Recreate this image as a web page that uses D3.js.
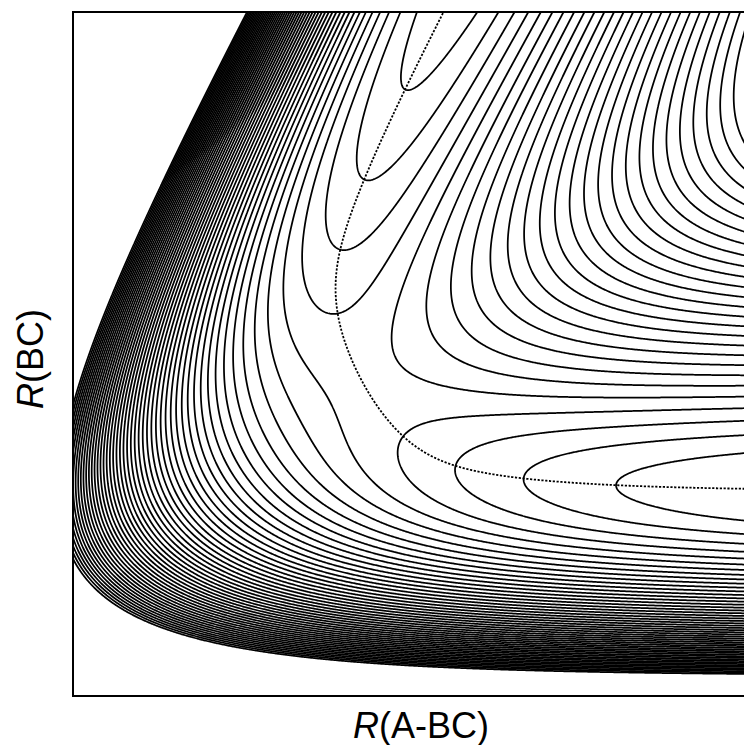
<!DOCTYPE html>
<html>
<head>
<meta charset="utf-8">
<script src="https://cdn.jsdelivr.net/npm/d3@7"></script>
<style>
  html, body { margin: 0; padding: 0; background: #fff; }
  svg { display: block; }
</style>
</head>
<body>
<script>
// Collinear A + B-C potential energy surface (LEPS form), drawn as equally
// spaced energy contours over the Jacobi distances R(A-BC) and R(BC),
// with the minimum energy path shown dotted.

// Atom masses (A, B, C), amu
const atomMass = [1.008, 1.008, 1.008];

// Morse parameters for the three pairs: A-B, B-C, A-C
const pairNames  = ["AB", "BC", "AC"];
const wellDepth  = [4.746, 4.746, 4.746];   // eV
const morseBeta  = [1.942, 1.942, 1.942];   // 1/Å
const bondLength = [0.742, 0.742, 0.742];   // Å
const satoParam  = [0.15];

// Axis ranges (Å)
const xDomain = [0.938, 2.027];   // R(A-BC)
const yDomain = [0.400, 1.540];   // R(BC)

// Contour energies (eV)
const contourLevels = [
  -4.61, -4.55, -4.49, -4.43, -4.37, -4.31, -4.25, -4.19, -4.13, -4.07,
  -4.01, -3.95, -3.89, -3.83, -3.77, -3.71, -3.65, -3.59, -3.53, -3.47,
  -3.41, -3.35, -3.29, -3.23, -3.17, -3.11, -3.05, -2.99, -2.93, -2.87,
  -2.81, -2.75, -2.69, -2.63, -2.57, -2.51, -2.45, -2.39, -2.33, -2.27,
  -2.21, -2.15, -2.09, -2.03, -1.97, -1.91, -1.85, -1.79, -1.73, -1.67,
  -1.61, -1.55
];

const axisTitles = { x: ["R", "(A-BC)"], y: ["R", "(BC)"] };

const W = 744, H = 745;
const plot = { left: 73, top: 12, right: 770, bottom: 696 };

const xScale = d3.scaleLinear().domain(xDomain).range([plot.left, plot.right]);
const yScale = d3.scaleLinear().domain(yDomain).range([plot.bottom, plot.top]);

const [mA, mB, mC] = atomMass;
const cFrac = mC / (mB + mC);                        // B-C centre position
const muR = mA * (mB + mC) / (mA + mB + mC);          // reduced mass along R
const mur = mB * mC / (mB + mC);                      // reduced mass along r

// LEPS energy for A at Jacobi distance R from the B-C centre, B-C distance r
function energy(R, r) {
  const S = satoParam[0];
  const r1 = R - cFrac * r, r2 = r, r3 = r1 + r2;
  const d = [r1, r2, r3];
  let qSum = 0;
  const J = [0, 0, 0];
  for (let i = 0; i < 3; i++) {
    const u = Math.exp(-morseBeta[i] * (d[i] - bondLength[i]));
    const f = wellDepth[i] / (4 * (1 + S));
    qSum += f * ((3 + S) * u * u - (2 + 6 * S) * u);
    J[i] = f * ((1 + 3 * S) * u * u - (6 + 2 * S) * u);
  }
  const ex = Math.sqrt(0.5 * ((J[0] - J[1]) ** 2 + (J[1] - J[2]) ** 2 + (J[2] - J[0]) ** 2));
  return qSum - ex;
}
const energyAtPixel = (px, py) => energy(xScale.invert(px), yScale.invert(py));

// Sample on a pixel grid slightly larger than the frame
const gx0 = plot.left - 5, gy0 = plot.top - 5;
const nx = Math.ceil(plot.right - plot.left) + 11;
const ny = Math.ceil(plot.bottom - plot.top) + 11;
const grid = new Float64Array(nx * ny);
for (let j = 0; j < ny; j++) {
  for (let i = 0; i < nx; i++) {
    grid[j * nx + i] = energyAtPixel(gx0 + i, gy0 + j);
  }
}
const bands = d3.contours().size([nx, ny]).thresholds(contourLevels)(grid);
const contourPath = d3.geoPath(d3.geoTransform({
  point(x, y) { this.stream.point(gx0 + x - 0.5, gy0 + y - 0.5); }
}));

// Minimum energy path: locate the saddle, then follow the mass-weighted
// steepest descent towards reactants and products
const kx = (plot.right - plot.left) / (xDomain[1] - xDomain[0]);
const ky = (plot.bottom - plot.top) / (yDomain[1] - yDomain[0]);
const wx = kx * kx / muR, wy = ky * ky / mur;

function grad(p) {
  const h = 0.5;
  return [
    (energyAtPixel(p[0] + h, p[1]) - energyAtPixel(p[0] - h, p[1])) / (2 * h),
    (energyAtPixel(p[0], p[1] + h) - energyAtPixel(p[0], p[1] - h)) / (2 * h)
  ];
}
function hessian(p) {
  const h = 1;
  const gxp = grad([p[0] + h, p[1]]), gxm = grad([p[0] - h, p[1]]);
  const gyp = grad([p[0], p[1] + h]), gym = grad([p[0], p[1] - h]);
  const a = (gxp[0] - gxm[0]) / (2 * h);
  const c = (gyp[1] - gym[1]) / (2 * h);
  const b = ((gxp[1] - gxm[1]) + (gyp[0] - gym[0])) / (4 * h);
  return [a, b, c];
}
function findSaddle() {
  // start on the symmetric stretch line r1 = r2, scanning for its minimum
  let best = null;
  for (let s = 0.75; s <= 1.2; s += 0.002) {
    const R = s + cFrac * s, e = energy(R, s);
    if (!best || e < best.e) best = { e, p: [xScale(R), yScale(s)] };
  }
  let p = best.p;
  for (let k = 0; k < 40; k++) {
    const g = grad(p), [a, b, c] = hessian(p);
    const det = a * c - b * b;
    if (Math.abs(det) < 1e-14) break;
    const dx = (c * g[0] - b * g[1]) / det;
    const dy = (-b * g[0] + a * g[1]) / det;
    p = [p[0] - dx, p[1] - dy];
    if (Math.hypot(dx, dy) < 1e-4) break;
  }
  return p;
}
function descend(start) {
  const pts = [start];
  let p = start.slice();
  for (let k = 0; k < 8000; k++) {
    const g = grad(p);
    const sx = -wx * g[0], sy = -wy * g[1];
    const sn = Math.hypot(sx, sy);
    if (sn < 1e-12) break;
    p = [p[0] + 0.4 * sx / sn, p[1] + 0.4 * sy / sn];
    pts.push(p);
    if (p[0] < plot.left - 2 || p[0] > plot.right + 2 || p[1] < plot.top - 2 || p[1] > plot.bottom + 2) break;
  }
  return pts;
}
const saddle = findSaddle();
// unstable direction of the mass-weighted Hessian, mapped back to pixels
const [ha, hb, hc] = hessian(saddle);
const sa = Math.sqrt(wx), sc = Math.sqrt(wy);
const ma = ha * sa * sa, mb = hb * sa * sc, mc = hc * sc * sc;
const lam = (ma + mc) / 2 - Math.sqrt(((ma - mc) / 2) ** 2 + mb * mb);
let ev = Math.abs(mb) > 1e-12 ? [mb, lam - ma] : (ma < mc ? [1, 0] : [0, 1]);
ev = [ev[0] * sa, ev[1] * sc];
const evn = Math.hypot(ev[0], ev[1]);
ev = [ev[0] / evn, ev[1] / evn];
const branchA = descend([saddle[0] + 1.0 * ev[0], saddle[1] + 1.0 * ev[1]]);
const branchB = descend([saddle[0] - 1.0 * ev[0], saddle[1] - 1.0 * ev[1]]);
const mep = branchA.slice().reverse().concat([saddle], branchB);

// Drawing
const svg = d3.select("body").append("svg")
  .attr("width", W).attr("height", H)
  .attr("viewBox", `0 0 ${W} ${H}`);

svg.append("defs").append("clipPath").attr("id", "plot-clip")
  .append("rect")
  .attr("x", plot.left).attr("y", plot.top)
  .attr("width", plot.right - plot.left).attr("height", plot.bottom - plot.top);

const body = svg.append("g").attr("clip-path", "url(#plot-clip)");

body.append("g")
  .selectAll("path")
  .data(bands)
  .join("path")
  .attr("d", contourPath)
  .attr("fill", "none")
  .attr("stroke", "#000")
  .attr("stroke-width", 1.75)
  .attr("stroke-linejoin", "round");

body.append("path")
  .datum(mep)
  .attr("d", d3.line())
  .attr("fill", "none")
  .attr("stroke", "#000")
  .attr("stroke-width", 1.8)
  .attr("stroke-dasharray", "2.2,1.6");

svg.append("rect")
  .attr("x", plot.left).attr("y", plot.top)
  .attr("width", plot.right - plot.left).attr("height", plot.bottom - plot.top)
  .attr("fill", "none").attr("stroke", "#000").attr("stroke-width", 2);

const font = "'Liberation Sans', Arial, Helvetica, sans-serif";

const xt = svg.append("text")
  .attr("x", 421).attr("y", 738)
  .attr("text-anchor", "middle")
  .attr("font-family", font).attr("font-size", 36).attr("fill", "#000");
xt.append("tspan").attr("font-style", "italic").text(axisTitles.x[0]);
xt.append("tspan").text(axisTitles.x[1]);

const yt = svg.append("text")
  .attr("transform", "translate(43,359) rotate(-90)")
  .attr("text-anchor", "middle")
  .attr("font-family", font).attr("font-size", 36).attr("fill", "#000");
yt.append("tspan").attr("font-style", "italic").text(axisTitles.y[0]);
yt.append("tspan").text(axisTitles.y[1]);
</script>
</body>
</html>
